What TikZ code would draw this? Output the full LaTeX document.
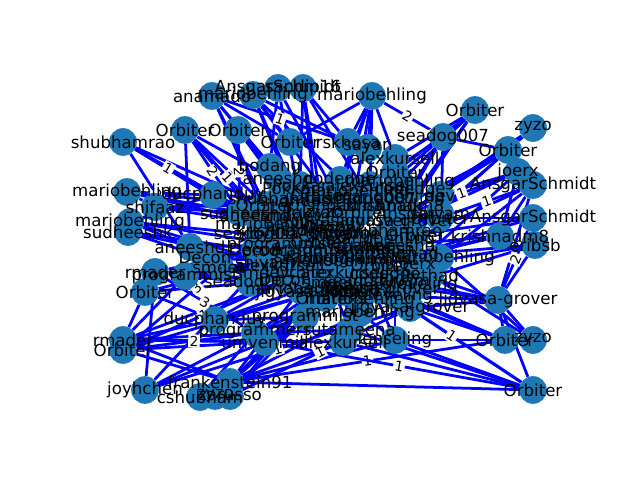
\documentclass[tikz,border=0pt]{standalone}
\usepackage{fontspec}
\setmainfont{DejaVu Sans}
\usetikzlibrary{backgrounds}
\definecolor{nodeblue}{RGB}{31,119,180}

\tikzset{
    dot/.style = {circle, fill=nodeblue, minimum size=20pt, inner sep=0pt},
    name text/.style = {font=\fontsize{12}{14}\selectfont, inner sep=0pt},
    edge/.style = {blue, line width=2pt},
    elabel/.style = {fill=white, text=black, inner sep=1pt, sloped, font=\fontsize{10}{12}\selectfont},
}

\begin{document}
\begin{tikzpicture}[x=0.01in, y=-0.01in]
    \useasboundingbox (0,0) rectangle (640,480);
    % name / x / y / text
    \def\peoplelist{
        shub/123/142/shubhamrao, orbA/185/130/Orbiter, orbB/238/130/Orbiter,
        anam/212/96/anamado, marA/253/95/mariobehling, ansA/278/88/AnsgarSchmidt,
        sand/303/88/sandip16, marB/372/96/mariobehling, orbC/475/110/Orbiter,
        zyzA/533/128/zyzo, sead/443/137/seadog007, orbD/508/150/Orbiter,
        joer/518/172/joerx, ansB/533/185/AnsgarSchmidt, ansC/533/218/AnsgarSchmidt,
        erib/535/245/eribsb, kris/500/236/krishnadm8, shiv/440/213/shivam,
        lidv/498/300/lidvasa-grover, orbE/505/340/Orbiter, zyzB/533/340/zyzo,
        orbF/533/390/Orbiter, rmaA/123/340/rmader, orbG/123/350/Orbiter,
        joyh/145/390/joyhchen, cshu/200/397/cshubham, zyzC/215/396/zyzo,
        zaru/230/396/zarusso, fran/230/382/frankenstein91, marC/127/192/mariobehling,
        marD/130/222/mariobehling, sudA/128/232/sudheeshk, shif/155/207/shifaaz,
        ducA/213/195/ducphanduy, rmaB/155/272/rmader, orbH/145/292/Orbiter,
        prgA/185/276/programmist, anee/190/247/aneeshd, deco/205/258/Decon,
        smde/220/267/smdev, ducB/215/320/ducphanduy, prgB/255/333/programmers,
        umve/265/342/umvenmill, alxA/343/342/alexkursell, lens/395/340/lenseling,
        ruta/350/330/rutameena, orbI/290/142/Orbiter, rskh/348/142/rskhosa,
        saya/368/148/sayan, alxB/395/158/alexkursell, orbJ/395/172/Orbiter,
        marE/400/182/mariobehling, code/410/190/codedge, boda/270/167/bodang,
        aneB/278/178/aneeshd, pokk/290/188/Pokkar, sudB/240/213/sudheesh,
        mak/405/205/mak, dev/440/195/dev, orbK/440/218/Orbiter,
        marF/440/258/mariobehling, pyth/430/277/Pythad, glev/395/296/gleveling,
        jigA/315/293/jigyasa-grover, prgC/305/317/programmist, marG/360/313/mariobehling,
        jigB/410/308/jigyasa-grover, seaB/250/283/seadog007,
        % the crowded middle
        c1/265/205/Orbiter, c2/300/200/sudheesh, c3/335/205/krishnadm8,
        c4/370/200/seadog007, c5/405/215/Ansgar, c6/270/225/mariobehling,
        c7/310/225/alexkursell, c8/350/222/jigyasa-grover, c9/390/230/shubhamrao,
        c10/280/245/programmist, c11/320/242/Orbiter, c12/360/245/rmader,
        c13/400/245/aneeshd, c14/265/262/shivam, c15/300/262/zyzo,
        c16/340/262/mariobehling, c17/380/265/Orbiter, c18/415/265/joerx,
        c19/285/280/Decon, c20/330/282/smdev, c21/370/282/seadog007,
        c22/310/212/Pokkar, c23/345/235/codedge, c24/375/255/bodang,
        c25/255/215/aneeshd, c26/290/215/rmader, c27/325/215/zyzo,
        c28/360/212/Orbiter, c29/395/205/krishnadm8, c30/260/235/seadog007,
        c31/300/235/jigyasa-grover, c32/340/232/shivam, c33/380/240/mariobehling,
        c34/415/235/Orbiter, c35/255/250/Decon, c36/295/252/programmist,
        c37/335/250/AnsgarSchmidt, c38/375/248/sudheesh, c39/410/255/Pythad,
        c40/262/272/smdev, c41/305/272/Orbiter, c42/345/272/alexkursell,
        c43/385/275/codedge, c44/420/285/gleveling, c45/300/290/mariobehling,
        c46/345/292/seadog007, c47/380/290/jigyasa-grover, c48/320/195/Orbiter,
        c49/355/192/mariobehling, c50/300/185/Pokkar, c51/340/180/codedge,
        c52/370/185/alexkursell, c53/280/198/shubhamrao, c54/390/198/mariobehling,
        c55/285/230/krishnadm8, c56/395/222/jigyasa-grover, c57/320/258/seadog007,
        c58/365/260/programmist, c59/280/265/alexkursell, c60/400/280/shivam,
        c61/325/298/Orbiter, c62/360/300/mariobehling, c63/330/228/Decon,
        c64/350/285/rmader}
    \foreach \n/\x/\y/\t in \peoplelist
        \node[dot] (\n) at (\x,\y) {};

    \begin{scope}[on background layer]
        \foreach \a/\bs in {
            shub/{c1,c6,sudB}, orbA/{c1,c10,anee,c6,pokk}, orbB/{c2,boda,c7,c11,aneB},
            anam/{c1,c2,orbI,c6,boda}, marA/{c3,c7,orbI,rskh,pokk,c49}, ansA/{c2,c8,boda},
            sand/{c4,c11,rskh,c48,c50}, marB/{c4,c3,c8,alxB,rskh,saya,orbI,c51},
            orbC/{sead,c5,orbJ,c9,marE}, zyzA/{orbD,c5}, sead/{c4,c9,code,orbD,c52},
            orbD/{c5,c13,mak,joer,c17}, joer/{c9,c18,dev,kris}, ansB/{c13,kris,marF,lidv},
            ansC/{c17,orbK,c34}, erib/{c18,lidv,pyth,c39}, kris/{c13,c17,c39}, shiv/{c9,c12},
            lidv/{c21,glev,jigB,orbE,zyzB,pyth,c44}, orbE/{c21,jigB,lens,c47}, zyzB/{c18,marF},
            orbF/{fran,alxA,lens,jigB,lidv,ruta},
            rmaA/{fran,prgB,ducB,prgA,c19,orbH,alxA}, orbG/{fran,prgB,umve,jigA,c19},
            joyh/{prgB,umve,rmaB,c10}, cshu/{prgB,fran}, zyzC/{prgC,fran}, zaru/{prgC,jigA},
            fran/{c20,prgC,alxA,lens,marG,c45}, marC/{c6,ducA,shif,c1,c25},
            marD/{c10,ducA,anee,c14,c30}, sudA/{c14,deco,shif,c35}, shif/{c1,sudB,c6},
            ducA/{c2,c6,c11}, rmaB/{c10,c19,prgA,seaB,c40}, orbH/{c14,seaB,ducB},
            prgA/{c15,c19}, anee/{c14,c10}, deco/{c15,c19}, ducB/{c19,jigA,prgC,c45},
            prgB/{c20,prgC,ruta,c46}, umve/{c20,alxA}, alxA/{c21,marG}, lens/{c21,marG,glev},
            ruta/{c20,c16}, smde/{c14,c15}, orbJ/{c34,c29}, code/{c33}, dev/{c34}}{
            \foreach \b in \bs
                \draw[edge] (\a) -- (\b);
        }
        % edges with a weight printed on them
        \foreach \a/\b/\w in {
            fran/orbE/1, orbF/umve/1, rmaA/umve/2, orbF/c21/1, rmaB/prgB/3,
            orbG/c19/1, orbG/c6/3, shub/anee/2, shub/ducA/1, orbA/sudB/2,
            orbB/sudB/2, orbA/c6/1, anam/rskh/1, marB/sead/2, orbC/alxB/2,
            sead/marF/3, orbD/c12/2, joer/c5/1, ansB/orbK/1, ansC/lidv/2,
            joyh/jigB/1, zaru/jigB/1}
            \draw[edge] (\a) -- node[elabel] {\w} (\b);
    \end{scope}

    \foreach \n/\x/\y/\t in \peoplelist
        \node[name text] (\n-t) at (\n) {\t};
\end{tikzpicture}
\end{document}
